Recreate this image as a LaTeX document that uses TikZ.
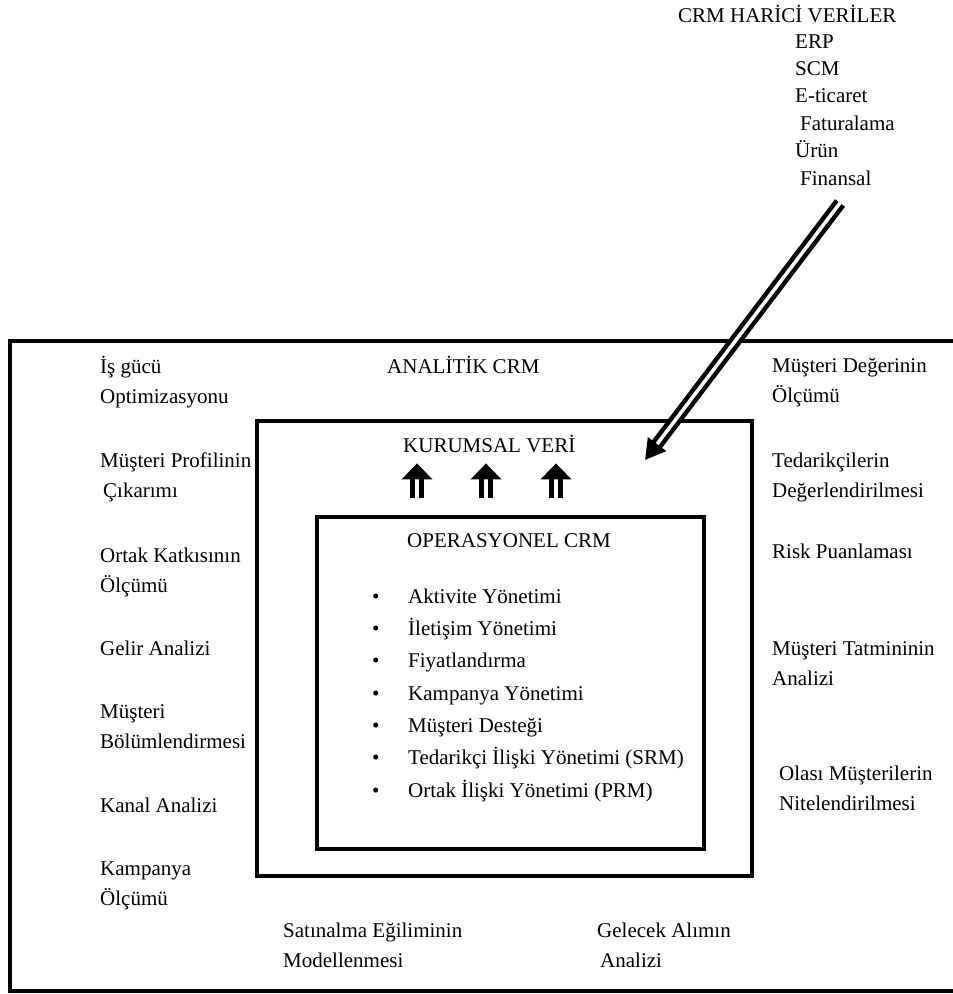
\documentclass[tikz,border=0pt]{standalone}
\usepackage{fontspec}
\setmainfont{Liberation Serif}
\usetikzlibrary{positioning, arrows.meta, calc}

\begin{document}
\begin{tikzpicture}[x=1pt, y=-1pt, >=Stealth,
    font=\fontsize{21}{30}\selectfont,
    lbl/.style={anchor=base west, inner sep=0pt, align=left},
    extlist/.style={lbl, font=\fontsize{21}{27.4}\selectfont},
    items/.style={lbl, font=\fontsize{21}{32.3}\selectfont},
    frame/.style={draw, line width=3.2pt, inner sep=0pt},
    bigarrow/.style={double=white, double distance=3.5pt, line width=4.5pt,
      -{Triangle[length=20pt, width=22pt]}},
    uparrow/.style={double=white, double distance=3.5pt, line width=5pt,
      -{Triangle[length=16pt, width=30pt]}}]
    \useasboundingbox (0,0) rectangle (953,994);
    % outer frame (open to the right)
    \draw[line width=3.5pt] (953,341) -| (10,991) -- (953,991);
    \node[frame, minimum width=495pt, minimum height=455pt] (veribox) at (504.5,648.5) {};
    \node[frame, minimum width=387pt, minimum height=332pt] (opbox) at (510.5,683) {};
    % external data (base = last line)
    \node[lbl] (harici) at (678,22) {CRM HARİCİ VERİLER};
    \node[extlist] (kaynak) at (795,185) {ERP\\SCM\\E-ticaret\\\hspace{5pt}Faturalama\\Ürün\\\hspace{5pt}Finansal};
    \coordinate (dstail) at (840,203);
    \coordinate (dshead) at (645,460);
    \draw[bigarrow] (dstail) -- (dshead);
    % titles
    \node[lbl] (analitik) at (387,373) {ANALİTİK CRM};
    \node[lbl] (kurumsal) at (403,452) {KURUMSAL VERİ};
    \node[lbl] (operasyonel) at (407,547) {OPERASYONEL CRM};
    \foreach \dx in {-93.5,-24.5,45.5}
      \draw[uparrow] ([xshift=\dx pt]opbox.north) ++(0,-17) -- ++(0,-35);
    \node[items] (liste) at (372,797) {%
      \makebox[36pt][l]{\textbullet}Aktivite Yönetimi\\
      \makebox[36pt][l]{\textbullet}İletişim Yönetimi\\
      \makebox[36pt][l]{\textbullet}Fiyatlandırma\\
      \makebox[36pt][l]{\textbullet}Kampanya Yönetimi\\
      \makebox[36pt][l]{\textbullet}Müşteri Desteği\\
      \makebox[36pt][l]{\textbullet}Tedarikçi İlişki Yönetimi (SRM)\\
      \makebox[36pt][l]{\textbullet}Ortak İlişki Yönetimi (PRM)};
    % left column
    \node[lbl] (isgucu) at (100,403) {İş gücü\\Optimizasyonu};
    \node[lbl] (profil) at (100,497) {Müşteri Profilinin\\\hspace{3pt}Çıkarımı};
    \node[lbl] (katki) at (100,592) {Ortak Katkısının\\Ölçümü};
    \node[lbl] (gelir) at (100,655) {Gelir Analizi};
    \node[lbl] (bolum) at (100,748) {Müşteri\\Bölümlendirmesi};
    \node[lbl] (kanal) at (100,812) {Kanal Analizi};
    \node[lbl] (kampanya) at (100,905) {Kampanya\\Ölçümü};
    % right column
    \node[lbl] (deger) at (772,402) {Müşteri Değerinin\\Ölçümü};
    \node[lbl] (tedarik) at (772,497) {Tedarikçilerin\\Değerlendirilmesi};
    \node[lbl] (risk) at (772,558) {Risk Puanlaması};
    \node[lbl] (tatmin) at (772,685) {Müşteri Tatmininin\\Analizi};
    \node[lbl] (olasi) at (779,810) {Olası Müşterilerin\\Nitelendirilmesi};
    % bottom
    \node[lbl] (satinalma) at (283,967) {Satınalma Eğiliminin\\Modellenmesi};
    \node[lbl] (gelecek) at (597,967) {Gelecek Alımın\\\hspace{3pt}Analizi};
\end{tikzpicture}
\end{document}
